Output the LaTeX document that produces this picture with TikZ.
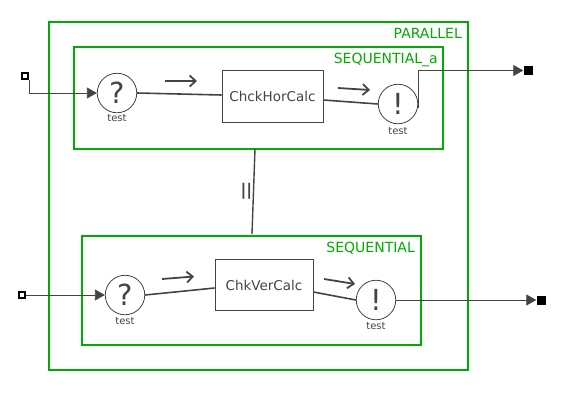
\documentclass[tikz,border=0pt]{standalone}
\usepackage{fontspec}
\setmainfont{DejaVu Sans}
\usetikzlibrary{arrows.meta}
\definecolor{grn}{RGB}{0,172,0}
\definecolor{dk}{RGB}{68,68,68}
\begin{document}
\begin{tikzpicture}[x=1pt,y=-1pt,
  container/.style={draw=grn,line width=2pt},
  clabel/.style={text=grn,font=\fontsize{14}{16}\selectfont,anchor=north east,inner sep=0pt},
  task/.style={draw=dk,line width=0.8pt,fill=white,text=dk,font=\fontsize{13.5}{15}\selectfont},
  gate/.style={circle,draw=dk,line width=0.8pt,minimum size=39.5pt,inner sep=0pt,text=dk,font=\fontsize{29}{30}\selectfont},
  caplabel/.style={text=dk,font=\fontsize{10}{11}\selectfont,inner sep=0pt},
  flow/.style={draw=dk,line width=1.6pt},
  dirarrow/.style={draw=dk,line width=1.8pt,-{Straight Barb[length=6pt,width=11pt]}},
  wire/.style={draw=dk,line width=0.8pt},
  wirearrow/.style={wire,-{Triangle[length=10pt,width=11pt]}},
  inport/.style={draw=black,line width=2pt,fill=white,minimum size=6pt,inner sep=0pt},
  outport/.style={fill=black,minimum size=9pt,inner sep=0pt}]
\useasboundingbox (0,0) rectangle (575,402);
% containers
\node[container,minimum width=419pt,minimum height=348pt,anchor=north west,inner sep=0pt] (par) at (48,21) {};
\node[container,minimum width=369pt,minimum height=102pt,anchor=north west,inner sep=0pt] (seqa) at (73,46) {};
\node[container,minimum width=339pt,minimum height=109pt,anchor=north west,inner sep=0pt] (seq) at (81,235) {};
\node[clabel] (lpar) at (462,28) {PARALLEL};
\node[clabel] (lseqa) at (438,53) {SEQUENTIAL\_a};
\node[clabel] (lseq) at (415,242) {SEQUENTIAL};
% parallel connector
\coordinate (pt) at (255,149);
\coordinate (pb) at (252,234);
\draw[flow,line width=1.4pt] (pt) -- (pb);
\node[text=dk,font=\fontsize{16}{18}\selectfont\bfseries,inner sep=0pt] (bar) at (246.5,191) {||};
% top row
\node[gate] (q1) at (117,93) {?};
\node[caplabel] (t1) at (117,118) {test};
\node[task,minimum width=101pt,minimum height=52pt,inner sep=0pt] (h) at (272.5,96) {ChckHorCalc};
\node[gate] (e1) at (398,104) {!};
\node[caplabel] (t2) at (398,131) {test};
\draw[flow] (q1.east) -- (h.west |- 0,95);
\draw[flow] (h.east |- 0,100) -- (e1.west);
\coordinate (a1s) at (165,81); \coordinate (a1e) at (197,81);
\draw[dirarrow] (a1s) -- (a1e);
\coordinate (a2s) at (338,88); \coordinate (a2e) at (370,90);
\draw[dirarrow] (a2s) -- (a2e);
\node[inport] (in1) at (25,76) {};
\node[outport] (out1) at (528,70.5) {};
\draw[wirearrow] (in1.south east) |- (q1.west);
\coordinate (e1o) at ([yshift=-4pt]e1.east);
\draw[wire] (e1.east) -- (e1o);
\draw[wirearrow] (e1o) |- (out1.west);
% bottom row
\node[gate] (q2) at (125,295) {?};
\node[caplabel] (t3) at (125,321) {test};
\node[task,minimum width=98pt,minimum height=51pt,inner sep=0pt] (v) at (264,285) {ChkVerCalc};
\node[gate] (e2) at (376,300) {!};
\node[caplabel] (t4) at (376,326) {test};
\draw[flow] (q2.east) -- (v.west |- 0,288);
\draw[flow] (v.east |- 0,292) -- (e2.west);
\coordinate (b1s) at (162,279); \coordinate (b1e) at (194,276.5);
\draw[dirarrow] (b1s) -- (b1e);
\coordinate (b2s) at (324,279); \coordinate (b2e) at (355,284);
\draw[dirarrow] (b2s) -- (b2e);
\node[inport] (in2) at (22,295) {};
\node[outport] (out2) at (541,300) {};
\draw[wirearrow] (in2.east) -- (q2.west);
\draw[wirearrow] (e2.east) -- (out2.west);
\end{tikzpicture}
\end{document}
